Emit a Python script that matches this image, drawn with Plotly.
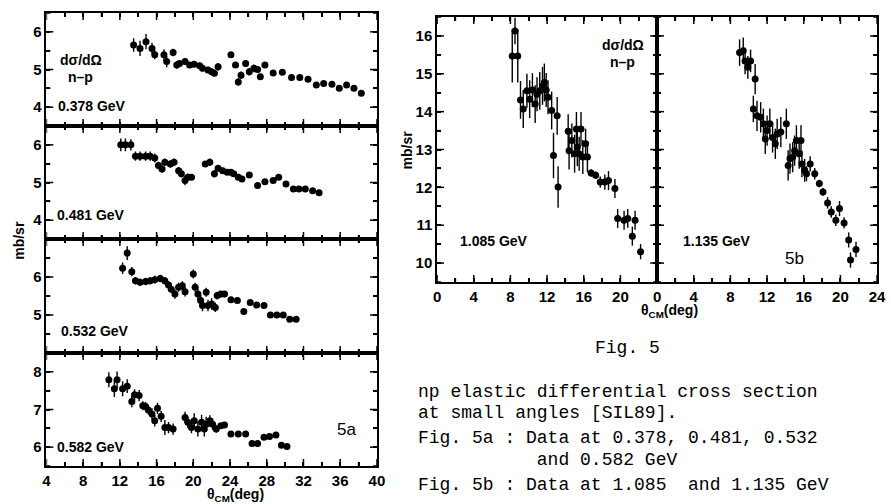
import plotly.graph_objects as go

W, H = 891, 504

# ---------------- data ----------------
e378_x = [13.5, 14.2, 14.85, 15.5, 15.8, 16.8, 17.1, 17.8, 18.2, 18.5, 19.1, 19.6, 20.1, 20.7, 21.0, 21.6, 22.0, 22.3, 22.7,
          24.1, 24.6, 24.9, 25.2, 25.7, 26.1, 26.6, 27.0, 27.3, 27.8, 28.7, 29.7, 30.7, 31.6, 32.5, 33.4, 34.2, 35.1, 35.9, 36.7, 37.5, 38.3]
e378_y = [5.65, 5.56, 5.74, 5.56, 5.39, 5.39, 5.21, 5.45, 5.12, 5.16, 5.21, 5.12, 5.14, 5.10, 5.03, 4.99, 4.94, 4.90, 5.07,
          5.39, 5.12, 4.67, 4.85, 5.16, 4.94, 5.03, 5.00, 4.81, 5.12, 4.91, 4.93, 4.79, 4.79, 4.74, 4.59, 4.63, 4.61, 4.50, 4.59, 4.50, 4.37]
e378_e = [0.18, 0.2, 0.2, 0.15, 0.12, 0.15, 0.15, 0.1, 0.1, 0.08, 0.08, 0.08, 0.08, 0.08, 0.08, 0.08, 0.08, 0.08, 0.1,
          0.07, 0.08, 0.1, 0.1, 0.08, 0.1, 0.1, 0.08, 0.08, 0.06, 0.05, 0.05, 0.05, 0.05, 0.05, 0.05, 0.05, 0.05, 0.05, 0.05, 0.05, 0.05]

e481_x = [12.1, 12.6, 13.2, 13.7, 14.2, 14.8, 15.3, 15.8, 16.2, 16.6, 16.9, 17.5, 17.9, 18.4, 18.7, 19.1, 19.4, 19.8,
          21.3, 21.8, 22.3, 22.7, 23.2, 23.7, 24.1, 24.4, 24.9, 25.3, 26.1, 27.0, 27.8, 28.7, 29.3, 30.1, 30.9, 31.5, 32.2, 33.0, 33.7]
e481_y = [6.0, 6.0, 6.0, 5.70, 5.70, 5.70, 5.70, 5.65, 5.45, 5.36, 5.54, 5.49, 5.54, 5.31, 5.23, 5.05, 5.14, 5.14,
          5.49, 5.54, 5.23, 5.38, 5.31, 5.27, 5.27, 5.23, 5.14, 5.09, 5.20, 4.92, 5.02, 5.05, 5.14, 4.96, 4.83, 4.83, 4.83, 4.78, 4.73]
e481_e = [0.17, 0.17, 0.15, 0.12, 0.12, 0.12, 0.12, 0.12, 0.1, 0.1, 0.1, 0.1, 0.1, 0.1, 0.1, 0.12, 0.1, 0.08,
          0.08, 0.1, 0.1, 0.08, 0.08, 0.07, 0.07, 0.07, 0.06, 0.06, 0.05, 0.05, 0.05, 0.05, 0.05, 0.05, 0.04, 0.04, 0.04, 0.04, 0.04]

e532_x = [12.3, 12.8, 13.3, 13.7, 14.2, 14.8, 15.3, 15.8, 16.4, 16.9, 17.3, 17.6, 18.0, 18.4, 18.8, 19.1,
          20.0, 20.2, 20.5, 20.8, 21.0, 21.4, 21.6, 22.0, 22.4, 22.6, 23.0, 23.4, 24.1, 24.8, 25.5, 26.2, 26.9,
          27.7, 28.4, 29.1, 29.8, 30.5, 31.2]
e532_y = [6.23, 6.63, 6.14, 5.90, 5.86, 5.88, 5.90, 5.93, 5.96, 5.90, 5.79, 5.68, 5.55, 5.73, 5.77, 5.61,
          6.08, 5.73, 5.55, 5.38, 5.25, 5.60, 5.25, 5.29, 5.20, 5.51, 5.55, 5.55, 5.40, 5.38, 5.09, 5.33, 5.26,
          5.25, 5.00, 5.00, 5.00, 4.89, 4.89]
e532_e = [0.15, 0.18, 0.12, 0.1, 0.1, 0.1, 0.1, 0.1, 0.1, 0.1, 0.1, 0.1, 0.12, 0.12, 0.12, 0.12,
          0.12, 0.12, 0.15, 0.15, 0.15, 0.12, 0.15, 0.15, 0.12, 0.1, 0.08, 0.08, 0.06, 0.06, 0.06, 0.05, 0.05,
          0.05, 0.05, 0.05, 0.05, 0.05, 0.05]

e582_x = [10.8, 11.4, 11.7, 12.3, 12.8, 13.3, 13.6, 14.1, 14.5, 14.8, 15.1, 15.5, 15.8, 16.1, 16.5, 16.9, 17.3, 17.8,
          19.1, 19.4, 19.8, 20.1, 20.5, 20.9, 21.2, 21.4, 21.8, 22.1, 22.5, 23.0, 23.4, 24.1, 24.9, 25.7,
          26.4, 27.0, 27.7, 28.3, 29.0, 29.6, 30.2]
e582_y = [7.79, 7.55, 7.79, 7.55, 7.62, 7.21, 7.39, 7.37, 7.10, 7.08, 6.99, 6.88, 6.70, 7.03, 6.82, 6.52, 6.52, 6.48,
          6.79, 6.66, 6.52, 6.70, 6.48, 6.66, 6.48, 6.61, 6.70, 6.61, 6.48, 6.57, 6.59, 6.35, 6.35, 6.35,
          6.10, 6.10, 6.26, 6.28, 6.32, 6.05, 6.02]
e582_e = [0.2, 0.22, 0.22, 0.2, 0.18, 0.15, 0.15, 0.15, 0.12, 0.12, 0.12, 0.15, 0.15, 0.15, 0.15, 0.2, 0.15, 0.15,
          0.15, 0.15, 0.15, 0.2, 0.2, 0.2, 0.2, 0.2, 0.15, 0.15, 0.1, 0.08, 0.08, 0.06, 0.06, 0.06,
          0.06, 0.06, 0.06, 0.06, 0.06, 0.06, 0.06]

e1085_x = [8.2, 8.5, 8.8, 9.1, 9.4, 9.8, 10.1, 10.4, 10.7, 10.9, 11.2, 11.5, 11.7, 11.9, 12.1, 12.5, 12.7, 13.1, 13.2,
           14.3, 14.4, 14.7, 15.0, 15.2, 15.3, 15.5, 15.7, 15.9, 16.2, 16.4, 16.8, 17.3, 17.8, 18.3, 18.7, 19.4,
           19.7, 20.4, 20.8, 21.3, 21.6, 22.2]
e1085_y = [15.47, 16.13, 15.47, 14.31, 14.07, 14.55, 14.33, 14.57, 14.20, 14.46, 14.55, 14.68, 14.77, 14.57, 14.38, 14.03, 12.84, 13.89, 12.01,
           13.48, 12.97, 13.24, 12.89, 13.54, 13.06, 12.89, 13.54, 12.80, 13.15, 12.80, 12.38, 12.32, 12.14, 12.14, 12.18, 11.97,
           11.18, 11.13, 11.18, 10.71, 11.13, 10.30]
e1085_e = [0.7, 0.35, 0.7, 0.5, 0.5, 0.45, 0.5, 0.45, 0.5, 0.45, 0.5, 0.5, 0.5, 0.45, 0.45, 0.5, 0.6, 0.5, 0.55,
           0.45, 0.5, 0.45, 0.5, 0.45, 0.5, 0.45, 0.45, 0.45, 0.4, 0.4, 0.1, 0.1, 0.15, 0.2, 0.25, 0.25,
           0.25, 0.25, 0.25, 0.25, 0.25, 0.2]

e1135_x = [9.0, 9.4, 9.6, 9.9, 10.2, 10.5, 10.7, 10.9, 11.3, 11.6, 11.8, 12.0, 12.3, 12.6, 12.9, 13.1, 13.5, 14.1,
           14.3, 14.5, 14.8, 15.0, 15.2, 15.5, 15.7, 15.8, 16.1, 16.3, 16.7, 17.2, 17.7, 18.1, 18.6, 19.0, 19.5,
           19.9, 20.4, 20.9, 21.1, 21.7]
e1135_y = [15.56, 15.61, 15.34, 15.17, 15.34, 14.07, 14.86, 13.89, 13.85, 13.68, 13.28, 13.50, 13.68, 13.32, 13.15, 13.41, 13.46, 13.68,
           12.58, 12.76, 12.80, 12.97, 13.24, 12.89, 13.24, 12.62, 12.45, 12.36, 12.62, 12.36, 12.10, 11.88, 11.59, 11.35, 11.13,
           11.44, 11.06, 10.61, 10.08, 10.36]
e1135_e = [0.35, 0.35, 0.35, 0.3, 0.3, 0.35, 0.4, 0.4, 0.4, 0.4, 0.4, 0.4, 0.4, 0.4, 0.4, 0.4, 0.4, 0.4,
           0.4, 0.4, 0.4, 0.4, 0.4, 0.4, 0.4, 0.35, 0.3, 0.2, 0.2, 0.15, 0.1, 0.1, 0.15, 0.15, 0.15,
           0.2, 0.15, 0.2, 0.2, 0.2]

left_labels = ["0.378 GeV", "0.481 GeV", "0.532 GeV", "0.582 GeV"]
right_labels = ["1.085 GeV", "1.135 GeV"]
left_x_ticks = [4, 8, 12, 16, 20, 24, 28, 32, 36, 40]
right1_x_ticks = [0, 4, 8, 12, 16, 20]
right2_x_ticks = [0, 4, 8, 12, 16, 20, 24]
right_y_ticks = [10, 11, 12, 13, 14, 15, 16]
caption_lines = ["np elastic differential cross section",
                 "at small angles [SIL89].",
                 "Fig. 5a : Data at 0.378, 0.481, 0.532",
                 "           and 0.582 GeV",
                 "Fig. 5b : Data at 1.085  and 1.135 GeV"]

# ---------------- layout helpers ----------------
def px(x, y):
    return x / W, 1 - y / H

TICKFONT = dict(family="Liberation Sans Narrow, Liberation Sans, Arial", size=15, color="black", weight="bold")
LBLFONT = dict(family="Liberation Sans Narrow, Liberation Sans, Arial", size=14, color="black", weight="bold")
MONO = dict(family="Liberation Mono, Courier New, monospace", size=18, color="black")

fig = go.Figure()

def add_series(xs, ys, es, idx):
    fig.add_trace(go.Scatter(
        x=xs, y=ys, mode="markers",
        marker=dict(color="black", size=7, symbol="circle"),
        error_y=dict(type="data", array=es, visible=True, color="black", thickness=1.4, width=0),
        xaxis="x" + ("" if idx == 1 else str(idx)),
        yaxis="y" + ("" if idx == 1 else str(idx)),
        showlegend=False))

add_series(e378_x, e378_y, e378_e, 1)
add_series(e481_x, e481_y, e481_e, 2)
add_series(e532_x, e532_y, e532_e, 3)
add_series(e582_x, e582_y, e582_e, 4)
add_series(e1085_x, e1085_y, e1085_e, 5)
add_series(e1135_x, e1135_y, e1135_e, 6)


def tick_arrays(labelled, lo, hi, step):
    """Tick every `step`; only the labelled values carry text."""
    vals, texts = [], []
    n = int(round((hi - lo) / step))
    for k in range(n + 1):
        v = round(lo + k * step, 3)
        vals.append(v)
        texts.append(str(int(v)) if any(abs(v - l) < 1e-6 for l in labelled) else "")
    return vals, texts


def axis(domain, rng, labelled, step, show, anchor):
    vals, texts = tick_arrays(labelled, rng[0], rng[1], step)
    return dict(domain=domain, range=rng, anchor=anchor, showline=True, linewidth=1.6, linecolor="black",
                mirror="allticks", ticks="inside", ticklen=4, tickwidth=1.5, tickcolor="black",
                tickmode="array", tickvals=vals, ticktext=texts, showticklabels=show,
                tickfont=TICKFONT, showgrid=False, zeroline=False)


shapes = []


def tick_shapes(n, xaxis_d, yaxis_d, xlab, ylab, wpx, hpx):
    """Tick marks on all four frame edges, placed through the axis scales."""
    xr, yr = "x" + n, "y" + n
    ln = dict(color="black", width=1.5)
    for v, t in zip(xaxis_d["tickvals"], xaxis_d["ticktext"]):
        L = (7 if t != "" or v in xlab else 4) / hpx
        shapes.append(dict(type="line", xref=xr, yref=yr + " domain", x0=v, x1=v, y0=0, y1=L, line=ln))
        shapes.append(dict(type="line", xref=xr, yref=yr + " domain", x0=v, x1=v, y0=1, y1=1 - L, line=ln))
    for v, t in zip(yaxis_d["tickvals"], yaxis_d["ticktext"]):
        L = (7 if t != "" or v in ylab else 4) / wpx
        shapes.append(dict(type="line", xref=xr + " domain", yref=yr, x0=0, x1=L, y0=v, y1=v, line=ln))
        shapes.append(dict(type="line", xref=xr + " domain", yref=yr, x0=1, x1=1 - L, y0=v, y1=v, line=ln))


lx0, lx1 = 43 / W, 378 / W
panel_y = [(13, 126), (126, 239), (239, 353), (353, 466)]
yranges = [[3.5, 6.5], [3.5, 6.5], [4.0, 7.0], [5.5, 8.5]]
yticks = [[4, 5, 6], [4, 5, 6], [5, 6], [6, 7, 8]]
lay = {}
for i in range(4):
    n = "" if i == 0 else str(i + 1)
    d = [1 - panel_y[i][1] / H, 1 - panel_y[i][0] / H]
    lay["xaxis" + n] = axis([lx0, lx1], [4, 40], left_x_ticks, 2, i == 3, "y" + n)
    lay["yaxis" + n] = axis(d, yranges[i], yticks[i], 0.5, True, "x" + n)
    tick_shapes(n, lay["xaxis" + n], lay["yaxis" + n], left_x_ticks, yticks[i], 335, panel_y[i][1] - panel_y[i][0])

rd = [1 - 282 / H, 1 - 17 / H]
lay["xaxis5"] = axis([439 / W, 662 / W], [0, 24], right1_x_ticks, 2, True, "y5")
lay["yaxis5"] = axis(rd, [9.5, 16.5], right_y_ticks, 0.5, True, "x5")
lay["xaxis6"] = axis([662 / W, 885 / W], [0, 24], right2_x_ticks, 2, True, "y6")
lay["yaxis6"] = axis(rd, [9.5, 16.5], right_y_ticks, 0.5, False, "x6")
tick_shapes("5", lay["xaxis5"], lay["yaxis5"], right2_x_ticks, right_y_ticks, 223, 265)
tick_shapes("6", lay["xaxis6"], lay["yaxis6"], right2_x_ticks, right_y_ticks, 223, 265)

fig.update_layout(width=W, height=H, margin=dict(l=0, r=0, t=0, b=0), autosize=False,
                  paper_bgcolor="white", plot_bgcolor="white", shapes=shapes, **lay)


def ann(text, x, y, font, angle=0, xanchor="center"):
    ax, ay = px(x, y)
    fig.add_annotation(text=text, x=ax, y=ay, xref="paper", yref="paper", showarrow=False,
                       font=font, textangle=angle, xanchor=xanchor, yanchor="middle")


# left panel labels
ann("dσ/dΩ", 78, 60, LBLFONT)
ann("n–p", 78, 77, LBLFONT)
lab_pos = [(89, 106), (88, 215), (92, 331), (88, 447)]
for t, (x, y) in zip(left_labels, lab_pos):
    ann(t, x, y, LBLFONT)
ann("5a", 347, 429, dict(family="Liberation Sans, Arial", size=17, color="black"))
ann("mb/sr", 15, 240, LBLFONT, angle=-90)
ann("θ<sub>CM</sub>(deg)", 235, 495, LBLFONT)

# right panel labels
ann("dσ/dΩ", 627, 45, LBLFONT)
ann("n–p", 627, 62, LBLFONT)
ann("mb/sr", 408, 150, LBLFONT, angle=-90)
ann(right_labels[0], 497, 241, LBLFONT)
ann(right_labels[1], 723, 241, LBLFONT)
ann("5b", 801, 258, dict(family="Liberation Sans, Arial", size=17, color="black"))
ann("θ<sub>CM</sub>(deg)", 675, 311, LBLFONT)

# caption
ann("Fig. 5", 632, 348, MONO)
cap_y = [392, 413, 438, 460, 485]
for t, y in zip(caption_lines, cap_y):
    ann(t.replace(" ", "&nbsp;"), 418, y, MONO, xanchor="left")

fig.write_html("out.html")
